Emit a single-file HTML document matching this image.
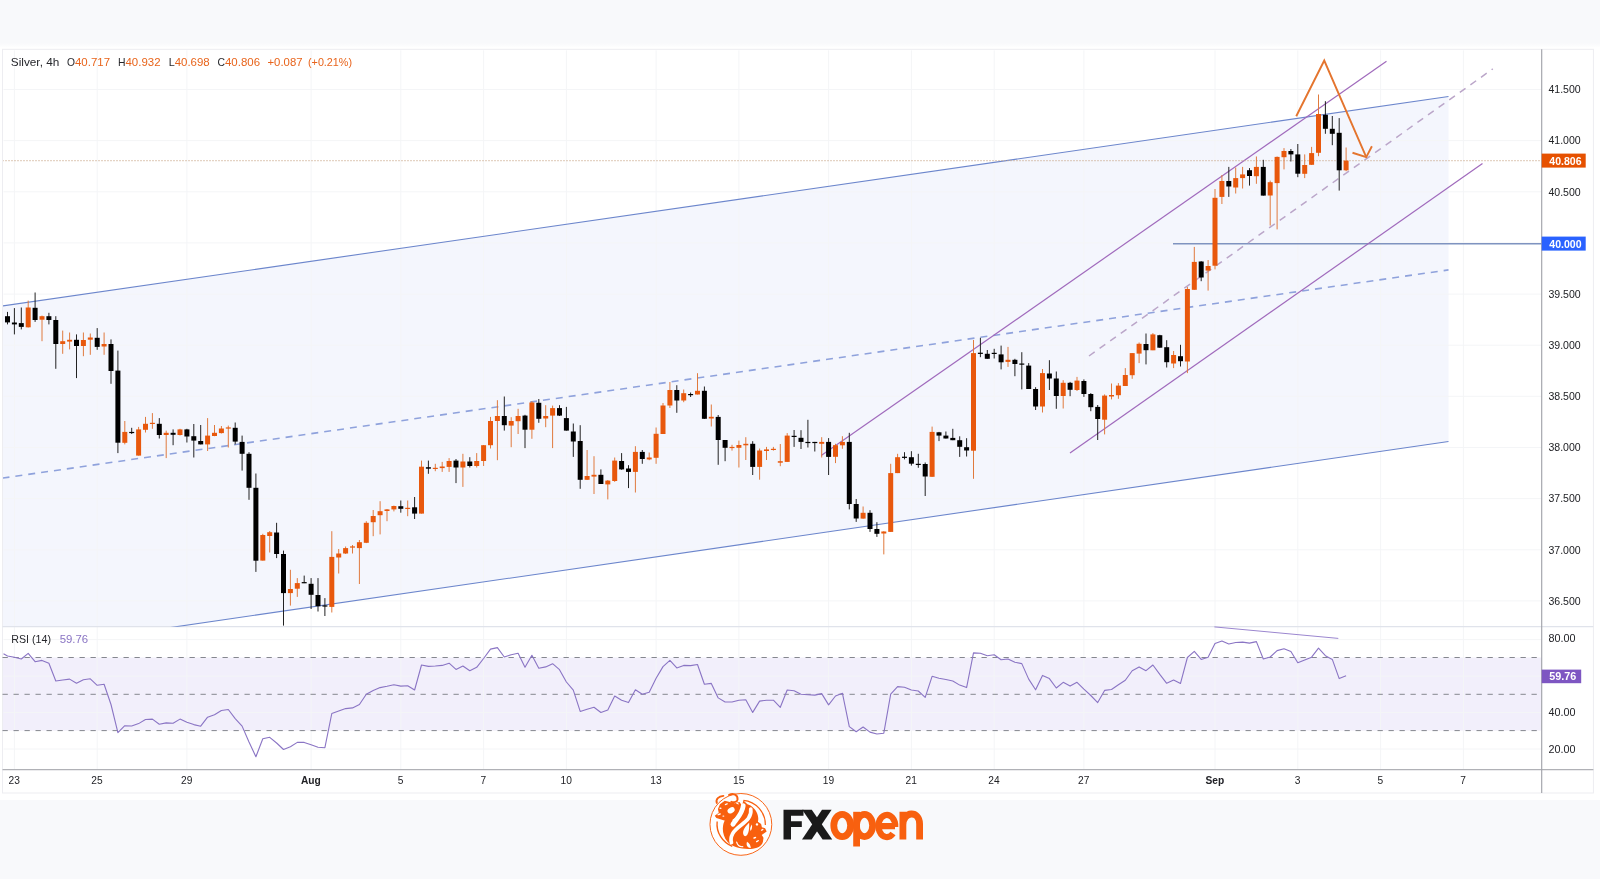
<!DOCTYPE html>
<html><head><meta charset="utf-8"><title>Silver 4h</title>
<style>
html,body{margin:0;padding:0;background:#f8f9fb;}
body{width:1600px;height:879px;position:relative;overflow:hidden;font-family:"Liberation Sans",sans-serif;}
</style></head><body>
<svg width="1600" height="879" viewBox="0 0 1600 879" style="position:absolute;left:0;top:0">
<rect x="0" y="0" width="1600" height="879" fill="#f8f9fb"/>
<defs><linearGradient id="tg" x1="0" y1="0" x2="0" y2="1"><stop offset="0" stop-color="#f8f9fb"/><stop offset="1" stop-color="#ffffff"/></linearGradient></defs>
<rect x="0" y="43" width="1600" height="5" fill="url(#tg)"/>
<rect x="0" y="47.5" width="1600" height="752.5" fill="#ffffff"/>
<rect x="2.5" y="49.3" width="1590.9" height="743.7" fill="#ffffff" stroke="#ededf1" stroke-width="1"/>
<filter id="soft" filterUnits="userSpaceOnUse" x="0" y="0" width="1600" height="879"><feGaussianBlur stdDeviation="0.4"/></filter>
<g filter="url(#soft)">
<clipPath id="mainclip"><rect x="3.0" y="49.8" width="1538.7" height="576.9000000000001"/></clipPath>
<g clip-path="url(#mainclip)">
<polygon points="2.5,306.0 1448.5,96.5 1448.5,441.5 2.5,651.9" fill="#f4f6fd"/>
</g>
<rect x="3.0" y="657.5" width="1538.7" height="73.10000000000002" fill="#f2effb"/>
<line x1="14.4" y1="50.3" x2="14.4" y2="769.7" stroke="#f4f5f7" stroke-width="1"/>
<line x1="97.2" y1="50.3" x2="97.2" y2="769.7" stroke="#f4f5f7" stroke-width="1"/>
<line x1="186.9" y1="50.3" x2="186.9" y2="769.7" stroke="#f4f5f7" stroke-width="1"/>
<line x1="311.1" y1="50.3" x2="311.1" y2="769.7" stroke="#f4f5f7" stroke-width="1"/>
<line x1="400.8" y1="50.3" x2="400.8" y2="769.7" stroke="#f4f5f7" stroke-width="1"/>
<line x1="483.6" y1="50.3" x2="483.6" y2="769.7" stroke="#f4f5f7" stroke-width="1"/>
<line x1="566.4" y1="50.3" x2="566.4" y2="769.7" stroke="#f4f5f7" stroke-width="1"/>
<line x1="656.1" y1="50.3" x2="656.1" y2="769.7" stroke="#f4f5f7" stroke-width="1"/>
<line x1="738.9" y1="50.3" x2="738.9" y2="769.7" stroke="#f4f5f7" stroke-width="1"/>
<line x1="828.6" y1="50.3" x2="828.6" y2="769.7" stroke="#f4f5f7" stroke-width="1"/>
<line x1="911.4" y1="50.3" x2="911.4" y2="769.7" stroke="#f4f5f7" stroke-width="1"/>
<line x1="994.2" y1="50.3" x2="994.2" y2="769.7" stroke="#f4f5f7" stroke-width="1"/>
<line x1="1083.9" y1="50.3" x2="1083.9" y2="769.7" stroke="#f4f5f7" stroke-width="1"/>
<line x1="1215.0" y1="50.3" x2="1215.0" y2="769.7" stroke="#f4f5f7" stroke-width="1"/>
<line x1="1297.8" y1="50.3" x2="1297.8" y2="769.7" stroke="#f4f5f7" stroke-width="1"/>
<line x1="1380.6" y1="50.3" x2="1380.6" y2="769.7" stroke="#f4f5f7" stroke-width="1"/>
<line x1="1463.4" y1="50.3" x2="1463.4" y2="769.7" stroke="#f4f5f7" stroke-width="1"/>
<line x1="3.5" y1="89.5" x2="1541.7" y2="89.5" stroke="#f4f5f7" stroke-width="1"/>
<line x1="3.5" y1="140.6" x2="1541.7" y2="140.6" stroke="#f4f5f7" stroke-width="1"/>
<line x1="3.5" y1="191.8" x2="1541.7" y2="191.8" stroke="#f4f5f7" stroke-width="1"/>
<line x1="3.5" y1="242.9" x2="1541.7" y2="242.9" stroke="#f4f5f7" stroke-width="1"/>
<line x1="3.5" y1="294.1" x2="1541.7" y2="294.1" stroke="#f4f5f7" stroke-width="1"/>
<line x1="3.5" y1="345.2" x2="1541.7" y2="345.2" stroke="#f4f5f7" stroke-width="1"/>
<line x1="3.5" y1="396.3" x2="1541.7" y2="396.3" stroke="#f4f5f7" stroke-width="1"/>
<line x1="3.5" y1="447.5" x2="1541.7" y2="447.5" stroke="#f4f5f7" stroke-width="1"/>
<line x1="3.5" y1="498.6" x2="1541.7" y2="498.6" stroke="#f4f5f7" stroke-width="1"/>
<line x1="3.5" y1="549.8" x2="1541.7" y2="549.8" stroke="#f4f5f7" stroke-width="1"/>
<line x1="3.5" y1="600.9" x2="1541.7" y2="600.9" stroke="#f4f5f7" stroke-width="1"/>
<line x1="3.5" y1="639.6" x2="1541.7" y2="639.6" stroke="#f4f5f7" stroke-width="1"/>
<line x1="3.5" y1="676.1" x2="1541.7" y2="676.1" stroke="#f4f5f7" stroke-width="1"/>
<line x1="3.5" y1="712.5" x2="1541.7" y2="712.5" stroke="#f4f5f7" stroke-width="1"/>
<line x1="3.5" y1="749.0" x2="1541.7" y2="749.0" stroke="#f4f5f7" stroke-width="1"/>
<line x1="2.5" y1="626.7" x2="1593.4" y2="626.7" stroke="#e0e3eb" stroke-width="1.2"/>
<line x1="2.5" y1="769.7" x2="1593.4" y2="769.7" stroke="#b0b1b6" stroke-width="1.3"/>
<line x1="1541.7" y1="49.3" x2="1541.7" y2="793.0" stroke="#a2a3aa" stroke-width="1.15"/>
<g clip-path="url(#mainclip)">
<line x1="2.5" y1="306.0" x2="1448.5" y2="96.5" stroke="#6c86cc" stroke-width="1.1"/>
<line x1="170" y1="627.6" x2="1448.5" y2="441.5" stroke="#6c86cc" stroke-width="1.1"/>
<line x1="2.5" y1="478.1" x2="1448.5" y2="269.9" stroke="#8fa2dc" stroke-width="1.6" stroke-dasharray="7,6"/>
<line x1="1173" y1="243.7" x2="1541.7" y2="243.7" stroke="#7f93c0" stroke-width="1.5"/>
<line x1="821.25" y1="455.6" x2="1386.5" y2="61.3" stroke="#a06abc" stroke-width="1.2"/>
<line x1="1070" y1="453" x2="1482.5" y2="163.5" stroke="#a06abc" stroke-width="1.2"/>
<line x1="1089" y1="356" x2="1492.8" y2="68.9" stroke="#bba6c9" stroke-width="1.5" stroke-dasharray="7,6"/>
<line x1="2.5" y1="160.6" x2="1541.7" y2="160.6" stroke="#c9a688" stroke-width="1.1" stroke-dasharray="1,2"/>
<line x1="7.50" y1="311.9" x2="7.50" y2="324.4" stroke="#222222" stroke-width="1"/>
<rect x="5.00" y="316.2" width="5" height="6.2" fill="#000000"/>
<line x1="14.40" y1="308.1" x2="14.40" y2="334.4" stroke="#222222" stroke-width="1"/>
<rect x="11.90" y="322.5" width="5" height="1.9" fill="#000000"/>
<line x1="21.30" y1="307.5" x2="21.30" y2="329.4" stroke="#222222" stroke-width="1"/>
<rect x="18.80" y="323.1" width="5" height="3.8" fill="#000000"/>
<line x1="28.20" y1="300.6" x2="28.20" y2="327.5" stroke="#e07a3e" stroke-width="1"/>
<rect x="25.70" y="307.5" width="5" height="19.8" fill="#e8580a"/>
<line x1="35.10" y1="292.5" x2="35.10" y2="321.9" stroke="#222222" stroke-width="1"/>
<rect x="32.60" y="307.8" width="5" height="12.2" fill="#000000"/>
<line x1="42.00" y1="315.6" x2="42.00" y2="341.2" stroke="#e07a3e" stroke-width="1"/>
<rect x="39.50" y="316.2" width="5" height="3.5" fill="#e8580a"/>
<line x1="48.90" y1="312.8" x2="48.90" y2="324.4" stroke="#222222" stroke-width="1"/>
<rect x="46.40" y="316.2" width="5" height="3.8" fill="#000000"/>
<line x1="55.80" y1="316.2" x2="55.80" y2="368.8" stroke="#222222" stroke-width="1"/>
<rect x="53.30" y="320.0" width="5" height="24.0" fill="#000000"/>
<line x1="62.70" y1="330.6" x2="62.70" y2="353.8" stroke="#e07a3e" stroke-width="1"/>
<rect x="60.20" y="341.2" width="5" height="2.8" fill="#e8580a"/>
<line x1="69.60" y1="332.5" x2="69.60" y2="349.4" stroke="#e07a3e" stroke-width="1"/>
<rect x="67.10" y="339.8" width="5" height="1.8" fill="#e8580a"/>
<line x1="76.50" y1="334.4" x2="76.50" y2="378.1" stroke="#222222" stroke-width="1"/>
<rect x="74.00" y="339.8" width="5" height="6.2" fill="#000000"/>
<line x1="83.40" y1="332.5" x2="83.40" y2="356.2" stroke="#e07a3e" stroke-width="1"/>
<rect x="80.90" y="340.0" width="5" height="6.0" fill="#e8580a"/>
<line x1="90.30" y1="333.5" x2="90.30" y2="354.8" stroke="#e07a3e" stroke-width="1"/>
<rect x="87.80" y="337.5" width="5" height="2.2" fill="#e8580a"/>
<line x1="97.20" y1="328.1" x2="97.20" y2="349.8" stroke="#222222" stroke-width="1"/>
<rect x="94.70" y="337.8" width="5" height="9.1" fill="#000000"/>
<line x1="104.10" y1="332.5" x2="104.10" y2="354.8" stroke="#e07a3e" stroke-width="1"/>
<rect x="101.60" y="344.0" width="5" height="2.5" fill="#e8580a"/>
<line x1="111.00" y1="339.4" x2="111.00" y2="383.8" stroke="#222222" stroke-width="1"/>
<rect x="108.50" y="344.0" width="5" height="27.0" fill="#000000"/>
<line x1="117.90" y1="350.6" x2="117.90" y2="453.1" stroke="#222222" stroke-width="1"/>
<rect x="115.40" y="370.6" width="5" height="72.1" fill="#000000"/>
<line x1="124.80" y1="421.0" x2="124.80" y2="444.4" stroke="#e07a3e" stroke-width="1"/>
<rect x="122.30" y="431.9" width="5" height="10.9" fill="#e8580a"/>
<line x1="131.70" y1="427.8" x2="131.70" y2="434.0" stroke="#222222" stroke-width="1"/>
<rect x="129.20" y="431.9" width="5" height="1.2" fill="#000000"/>
<line x1="138.60" y1="426.9" x2="138.60" y2="455.6" stroke="#e07a3e" stroke-width="1"/>
<rect x="136.10" y="429.4" width="5" height="26.2" fill="#e8580a"/>
<line x1="145.50" y1="416.9" x2="145.50" y2="432.5" stroke="#e07a3e" stroke-width="1"/>
<rect x="143.00" y="423.8" width="5" height="6.0" fill="#e8580a"/>
<line x1="152.40" y1="413.1" x2="152.40" y2="428.8" stroke="#e07a3e" stroke-width="1"/>
<rect x="149.90" y="422.8" width="5" height="1.2" fill="#e8580a"/>
<line x1="159.30" y1="418.1" x2="159.30" y2="438.5" stroke="#222222" stroke-width="1"/>
<rect x="156.80" y="423.8" width="5" height="11.2" fill="#000000"/>
<line x1="166.20" y1="430.6" x2="166.20" y2="458.1" stroke="#e07a3e" stroke-width="1"/>
<rect x="163.70" y="432.8" width="5" height="2.2" fill="#e8580a"/>
<line x1="173.10" y1="429.4" x2="173.10" y2="445.2" stroke="#222222" stroke-width="1"/>
<rect x="170.60" y="432.8" width="5" height="2.0" fill="#000000"/>
<line x1="180.00" y1="428.8" x2="180.00" y2="435.5" stroke="#e07a3e" stroke-width="1"/>
<rect x="177.50" y="429.4" width="5" height="5.6" fill="#e8580a"/>
<line x1="186.90" y1="428.8" x2="186.90" y2="442.5" stroke="#222222" stroke-width="1"/>
<rect x="184.40" y="429.4" width="5" height="7.1" fill="#000000"/>
<line x1="193.80" y1="424.0" x2="193.80" y2="457.5" stroke="#222222" stroke-width="1"/>
<rect x="191.30" y="436.2" width="5" height="4.4" fill="#000000"/>
<line x1="200.70" y1="425.0" x2="200.70" y2="444.4" stroke="#222222" stroke-width="1"/>
<rect x="198.20" y="441.0" width="5" height="3.4" fill="#000000"/>
<line x1="207.60" y1="418.1" x2="207.60" y2="451.0" stroke="#e07a3e" stroke-width="1"/>
<rect x="205.10" y="435.6" width="5" height="8.8" fill="#e8580a"/>
<line x1="214.50" y1="425.0" x2="214.50" y2="436.2" stroke="#e07a3e" stroke-width="1"/>
<rect x="212.00" y="432.8" width="5" height="3.2" fill="#e8580a"/>
<line x1="221.40" y1="426.0" x2="221.40" y2="433.5" stroke="#e07a3e" stroke-width="1"/>
<rect x="218.90" y="428.5" width="5" height="4.6" fill="#e8580a"/>
<line x1="228.30" y1="425.6" x2="228.30" y2="447.5" stroke="#e07a3e" stroke-width="1"/>
<rect x="225.80" y="427.4" width="5" height="1.2" fill="#e8580a"/>
<line x1="235.20" y1="422.5" x2="235.20" y2="444.4" stroke="#222222" stroke-width="1"/>
<rect x="232.70" y="427.8" width="5" height="13.8" fill="#000000"/>
<line x1="242.10" y1="435.6" x2="242.10" y2="470.6" stroke="#222222" stroke-width="1"/>
<rect x="239.60" y="441.9" width="5" height="11.9" fill="#000000"/>
<line x1="249.00" y1="452.2" x2="249.00" y2="499.8" stroke="#222222" stroke-width="1"/>
<rect x="246.50" y="453.8" width="5" height="34.0" fill="#000000"/>
<line x1="255.90" y1="473.5" x2="255.90" y2="571.9" stroke="#222222" stroke-width="1"/>
<rect x="253.40" y="487.8" width="5" height="72.9" fill="#000000"/>
<line x1="262.80" y1="533.8" x2="262.80" y2="560.6" stroke="#e07a3e" stroke-width="1"/>
<rect x="260.30" y="535.0" width="5" height="25.6" fill="#e8580a"/>
<line x1="269.70" y1="531.0" x2="269.70" y2="552.5" stroke="#e07a3e" stroke-width="1"/>
<rect x="267.20" y="532.2" width="5" height="3.8" fill="#e8580a"/>
<line x1="276.60" y1="522.8" x2="276.60" y2="558.1" stroke="#222222" stroke-width="1"/>
<rect x="274.10" y="532.5" width="5" height="21.5" fill="#000000"/>
<line x1="283.50" y1="550.6" x2="283.50" y2="625.6" stroke="#222222" stroke-width="1"/>
<rect x="281.00" y="554.0" width="5" height="39.1" fill="#000000"/>
<line x1="290.40" y1="569.8" x2="290.40" y2="605.6" stroke="#e07a3e" stroke-width="1"/>
<rect x="287.90" y="589.0" width="5" height="4.1" fill="#e8580a"/>
<line x1="297.30" y1="578.1" x2="297.30" y2="596.9" stroke="#e07a3e" stroke-width="1"/>
<rect x="294.80" y="583.1" width="5" height="5.6" fill="#e8580a"/>
<line x1="304.20" y1="575.6" x2="304.20" y2="583.1" stroke="#222222" stroke-width="1"/>
<rect x="301.70" y="582.1" width="5" height="1.2" fill="#000000"/>
<line x1="311.10" y1="578.1" x2="311.10" y2="609.0" stroke="#222222" stroke-width="1"/>
<rect x="308.60" y="583.8" width="5" height="11.0" fill="#000000"/>
<line x1="318.00" y1="578.1" x2="318.00" y2="611.5" stroke="#222222" stroke-width="1"/>
<rect x="315.50" y="595.0" width="5" height="11.2" fill="#000000"/>
<line x1="324.90" y1="598.1" x2="324.90" y2="616.0" stroke="#222222" stroke-width="1"/>
<rect x="322.40" y="605.4" width="5" height="1.2" fill="#000000"/>
<line x1="331.80" y1="531.2" x2="331.80" y2="612.5" stroke="#e07a3e" stroke-width="1"/>
<rect x="329.30" y="556.9" width="5" height="50.0" fill="#e8580a"/>
<line x1="338.70" y1="549.0" x2="338.70" y2="573.5" stroke="#e07a3e" stroke-width="1"/>
<rect x="336.20" y="553.5" width="5" height="4.0" fill="#e8580a"/>
<line x1="345.60" y1="546.5" x2="345.60" y2="554.0" stroke="#e07a3e" stroke-width="1"/>
<rect x="343.10" y="548.1" width="5" height="5.4" fill="#e8580a"/>
<line x1="352.50" y1="545.0" x2="352.50" y2="553.5" stroke="#e07a3e" stroke-width="1"/>
<rect x="350.00" y="546.4" width="5" height="1.2" fill="#e8580a"/>
<line x1="359.40" y1="540.0" x2="359.40" y2="584.0" stroke="#e07a3e" stroke-width="1"/>
<rect x="356.90" y="542.2" width="5" height="5.9" fill="#e8580a"/>
<line x1="366.30" y1="521.2" x2="366.30" y2="543.1" stroke="#e07a3e" stroke-width="1"/>
<rect x="363.80" y="522.8" width="5" height="20.0" fill="#e8580a"/>
<line x1="373.20" y1="510.0" x2="373.20" y2="536.2" stroke="#e07a3e" stroke-width="1"/>
<rect x="370.70" y="516.0" width="5" height="6.2" fill="#e8580a"/>
<line x1="380.10" y1="501.2" x2="380.10" y2="534.4" stroke="#e07a3e" stroke-width="1"/>
<rect x="377.60" y="511.2" width="5" height="4.0" fill="#e8580a"/>
<line x1="387.00" y1="509.0" x2="387.00" y2="521.2" stroke="#e07a3e" stroke-width="1"/>
<rect x="384.50" y="509.4" width="5" height="1.6" fill="#e8580a"/>
<line x1="393.90" y1="505.6" x2="393.90" y2="511.4" stroke="#e07a3e" stroke-width="1"/>
<rect x="391.40" y="506.0" width="5" height="3.4" fill="#e8580a"/>
<line x1="400.80" y1="500.5" x2="400.80" y2="512.7" stroke="#222222" stroke-width="1"/>
<rect x="398.30" y="506.2" width="5" height="2.6" fill="#000000"/>
<line x1="407.70" y1="500.5" x2="407.70" y2="516.2" stroke="#e07a3e" stroke-width="1"/>
<rect x="405.20" y="507.8" width="5" height="1.2" fill="#e8580a"/>
<line x1="414.60" y1="497.0" x2="414.60" y2="519.0" stroke="#222222" stroke-width="1"/>
<rect x="412.10" y="507.3" width="5" height="6.3" fill="#000000"/>
<line x1="421.50" y1="460.6" x2="421.50" y2="513.6" stroke="#e07a3e" stroke-width="1"/>
<rect x="419.00" y="466.7" width="5" height="46.9" fill="#e8580a"/>
<line x1="428.40" y1="460.6" x2="428.40" y2="473.8" stroke="#222222" stroke-width="1"/>
<rect x="425.90" y="467.2" width="5" height="1.5" fill="#000000"/>
<line x1="435.30" y1="463.8" x2="435.30" y2="471.2" stroke="#e07a3e" stroke-width="1"/>
<rect x="432.80" y="467.8" width="5" height="1.2" fill="#e8580a"/>
<line x1="442.20" y1="461.9" x2="442.20" y2="471.9" stroke="#e07a3e" stroke-width="1"/>
<rect x="439.70" y="466.5" width="5" height="1.6" fill="#e8580a"/>
<line x1="449.10" y1="458.1" x2="449.10" y2="471.9" stroke="#e07a3e" stroke-width="1"/>
<rect x="446.60" y="461.0" width="5" height="5.9" fill="#e8580a"/>
<line x1="456.00" y1="459.0" x2="456.00" y2="483.1" stroke="#222222" stroke-width="1"/>
<rect x="453.50" y="460.6" width="5" height="6.9" fill="#000000"/>
<line x1="462.90" y1="453.8" x2="462.90" y2="486.9" stroke="#e07a3e" stroke-width="1"/>
<rect x="460.40" y="461.5" width="5" height="6.0" fill="#e8580a"/>
<line x1="469.80" y1="457.2" x2="469.80" y2="467.5" stroke="#222222" stroke-width="1"/>
<rect x="467.30" y="461.5" width="5" height="4.5" fill="#000000"/>
<line x1="476.70" y1="453.1" x2="476.70" y2="467.5" stroke="#e07a3e" stroke-width="1"/>
<rect x="474.20" y="461.0" width="5" height="5.0" fill="#e8580a"/>
<line x1="483.60" y1="445.0" x2="483.60" y2="466.0" stroke="#e07a3e" stroke-width="1"/>
<rect x="481.10" y="445.2" width="5" height="15.8" fill="#e8580a"/>
<line x1="490.50" y1="416.9" x2="490.50" y2="448.5" stroke="#e07a3e" stroke-width="1"/>
<rect x="488.00" y="421.0" width="5" height="24.2" fill="#e8580a"/>
<line x1="497.40" y1="400.2" x2="497.40" y2="460.2" stroke="#e07a3e" stroke-width="1"/>
<rect x="494.90" y="416.0" width="5" height="5.0" fill="#e8580a"/>
<line x1="504.30" y1="396.5" x2="504.30" y2="430.6" stroke="#222222" stroke-width="1"/>
<rect x="501.80" y="416.0" width="5" height="9.2" fill="#000000"/>
<line x1="511.20" y1="417.2" x2="511.20" y2="447.2" stroke="#e07a3e" stroke-width="1"/>
<rect x="508.70" y="421.0" width="5" height="4.6" fill="#e8580a"/>
<line x1="518.10" y1="408.8" x2="518.10" y2="434.0" stroke="#e07a3e" stroke-width="1"/>
<rect x="515.60" y="416.0" width="5" height="5.2" fill="#e8580a"/>
<line x1="525.00" y1="414.8" x2="525.00" y2="448.1" stroke="#222222" stroke-width="1"/>
<rect x="522.50" y="415.6" width="5" height="14.1" fill="#000000"/>
<line x1="531.90" y1="401.2" x2="531.90" y2="438.8" stroke="#e07a3e" stroke-width="1"/>
<rect x="529.40" y="402.5" width="5" height="27.2" fill="#e8580a"/>
<line x1="538.80" y1="399.0" x2="538.80" y2="422.8" stroke="#222222" stroke-width="1"/>
<rect x="536.30" y="402.8" width="5" height="16.0" fill="#000000"/>
<line x1="545.70" y1="405.2" x2="545.70" y2="427.2" stroke="#e07a3e" stroke-width="1"/>
<rect x="543.20" y="416.0" width="5" height="2.5" fill="#e8580a"/>
<line x1="552.60" y1="405.6" x2="552.60" y2="448.1" stroke="#e07a3e" stroke-width="1"/>
<rect x="550.10" y="408.1" width="5" height="7.5" fill="#e8580a"/>
<line x1="559.50" y1="405.2" x2="559.50" y2="416.0" stroke="#222222" stroke-width="1"/>
<rect x="557.00" y="408.1" width="5" height="7.5" fill="#000000"/>
<line x1="566.40" y1="406.9" x2="566.40" y2="430.6" stroke="#222222" stroke-width="1"/>
<rect x="563.90" y="418.1" width="5" height="12.5" fill="#000000"/>
<line x1="573.30" y1="423.5" x2="573.30" y2="456.9" stroke="#222222" stroke-width="1"/>
<rect x="570.80" y="431.5" width="5" height="10.0" fill="#000000"/>
<line x1="580.20" y1="425.2" x2="580.20" y2="488.8" stroke="#222222" stroke-width="1"/>
<rect x="577.70" y="441.0" width="5" height="38.8" fill="#000000"/>
<line x1="587.10" y1="450.0" x2="587.10" y2="480.0" stroke="#e07a3e" stroke-width="1"/>
<rect x="584.60" y="476.0" width="5" height="3.8" fill="#e8580a"/>
<line x1="594.00" y1="456.2" x2="594.00" y2="494.0" stroke="#e07a3e" stroke-width="1"/>
<rect x="591.50" y="474.8" width="5" height="1.8" fill="#e8580a"/>
<line x1="600.90" y1="469.4" x2="600.90" y2="484.0" stroke="#222222" stroke-width="1"/>
<rect x="598.40" y="474.8" width="5" height="9.2" fill="#000000"/>
<line x1="607.80" y1="480.0" x2="607.80" y2="499.4" stroke="#e07a3e" stroke-width="1"/>
<rect x="605.30" y="480.6" width="5" height="3.8" fill="#e8580a"/>
<line x1="614.70" y1="457.5" x2="614.70" y2="481.9" stroke="#e07a3e" stroke-width="1"/>
<rect x="612.20" y="460.6" width="5" height="20.4" fill="#e8580a"/>
<line x1="621.60" y1="453.1" x2="621.60" y2="469.8" stroke="#222222" stroke-width="1"/>
<rect x="619.10" y="461.0" width="5" height="8.4" fill="#000000"/>
<line x1="628.50" y1="465.2" x2="628.50" y2="488.1" stroke="#222222" stroke-width="1"/>
<rect x="626.00" y="468.5" width="5" height="3.4" fill="#000000"/>
<line x1="635.40" y1="446.2" x2="635.40" y2="492.5" stroke="#e07a3e" stroke-width="1"/>
<rect x="632.90" y="451.9" width="5" height="20.0" fill="#e8580a"/>
<line x1="642.30" y1="450.0" x2="642.30" y2="463.8" stroke="#222222" stroke-width="1"/>
<rect x="639.80" y="451.9" width="5" height="7.1" fill="#000000"/>
<line x1="649.20" y1="452.5" x2="649.20" y2="460.2" stroke="#e07a3e" stroke-width="1"/>
<rect x="646.70" y="457.5" width="5" height="1.9" fill="#e8580a"/>
<line x1="656.10" y1="427.5" x2="656.10" y2="463.8" stroke="#e07a3e" stroke-width="1"/>
<rect x="653.60" y="433.8" width="5" height="24.0" fill="#e8580a"/>
<line x1="663.00" y1="403.0" x2="663.00" y2="434.0" stroke="#e07a3e" stroke-width="1"/>
<rect x="660.50" y="405.5" width="5" height="28.5" fill="#e8580a"/>
<line x1="669.90" y1="382.0" x2="669.90" y2="408.0" stroke="#e07a3e" stroke-width="1"/>
<rect x="667.40" y="390.0" width="5" height="15.5" fill="#e8580a"/>
<line x1="676.80" y1="385.2" x2="676.80" y2="412.8" stroke="#222222" stroke-width="1"/>
<rect x="674.30" y="390.0" width="5" height="10.5" fill="#000000"/>
<line x1="683.70" y1="389.5" x2="683.70" y2="402.2" stroke="#e07a3e" stroke-width="1"/>
<rect x="681.20" y="393.2" width="5" height="7.3" fill="#e8580a"/>
<line x1="690.60" y1="392.5" x2="690.60" y2="397.0" stroke="#222222" stroke-width="1"/>
<rect x="688.10" y="394.0" width="5" height="1.2" fill="#000000"/>
<line x1="697.50" y1="373.2" x2="697.50" y2="394.5" stroke="#e07a3e" stroke-width="1"/>
<rect x="695.00" y="390.8" width="5" height="3.7" fill="#e8580a"/>
<line x1="704.40" y1="386.5" x2="704.40" y2="419.0" stroke="#222222" stroke-width="1"/>
<rect x="701.90" y="390.8" width="5" height="28.0" fill="#000000"/>
<line x1="711.30" y1="404.5" x2="711.30" y2="426.5" stroke="#e07a3e" stroke-width="1"/>
<rect x="708.80" y="416.8" width="5" height="1.7" fill="#e8580a"/>
<line x1="718.20" y1="415.0" x2="718.20" y2="464.8" stroke="#222222" stroke-width="1"/>
<rect x="715.70" y="416.9" width="5" height="23.1" fill="#000000"/>
<line x1="725.10" y1="440.0" x2="725.10" y2="461.2" stroke="#222222" stroke-width="1"/>
<rect x="722.60" y="440.0" width="5" height="7.8" fill="#000000"/>
<line x1="732.00" y1="444.8" x2="732.00" y2="450.6" stroke="#e07a3e" stroke-width="1"/>
<rect x="729.50" y="446.9" width="5" height="1.2" fill="#e8580a"/>
<line x1="738.90" y1="440.6" x2="738.90" y2="467.5" stroke="#e07a3e" stroke-width="1"/>
<rect x="736.40" y="445.0" width="5" height="2.8" fill="#e8580a"/>
<line x1="745.80" y1="437.2" x2="745.80" y2="460.0" stroke="#e07a3e" stroke-width="1"/>
<rect x="743.30" y="443.8" width="5" height="1.5" fill="#e8580a"/>
<line x1="752.70" y1="441.2" x2="752.70" y2="475.0" stroke="#222222" stroke-width="1"/>
<rect x="750.20" y="443.8" width="5" height="23.1" fill="#000000"/>
<line x1="759.60" y1="448.5" x2="759.60" y2="479.7" stroke="#e07a3e" stroke-width="1"/>
<rect x="757.10" y="450.5" width="5" height="16.4" fill="#e8580a"/>
<line x1="766.50" y1="446.9" x2="766.50" y2="460.0" stroke="#e07a3e" stroke-width="1"/>
<rect x="764.00" y="449.4" width="5" height="1.6" fill="#e8580a"/>
<line x1="773.40" y1="446.9" x2="773.40" y2="450.6" stroke="#e07a3e" stroke-width="1"/>
<rect x="770.90" y="448.8" width="5" height="1.2" fill="#e8580a"/>
<line x1="780.30" y1="444.0" x2="780.30" y2="466.2" stroke="#e07a3e" stroke-width="1"/>
<rect x="777.80" y="461.2" width="5" height="1.5" fill="#e8580a"/>
<line x1="787.20" y1="433.1" x2="787.20" y2="461.9" stroke="#e07a3e" stroke-width="1"/>
<rect x="784.70" y="435.6" width="5" height="26.3" fill="#e8580a"/>
<line x1="794.10" y1="430.0" x2="794.10" y2="446.9" stroke="#222222" stroke-width="1"/>
<rect x="791.60" y="435.8" width="5" height="1.2" fill="#000000"/>
<line x1="801.00" y1="430.2" x2="801.00" y2="449.0" stroke="#222222" stroke-width="1"/>
<rect x="798.50" y="437.8" width="5" height="4.1" fill="#000000"/>
<line x1="807.90" y1="419.8" x2="807.90" y2="447.5" stroke="#222222" stroke-width="1"/>
<rect x="805.40" y="441.9" width="5" height="1.2" fill="#000000"/>
<line x1="814.80" y1="441.9" x2="814.80" y2="451.5" stroke="#222222" stroke-width="1"/>
<rect x="812.30" y="441.9" width="5" height="1.2" fill="#000000"/>
<line x1="821.70" y1="437.2" x2="821.70" y2="457.5" stroke="#e07a3e" stroke-width="1"/>
<rect x="819.20" y="441.9" width="5" height="1.9" fill="#e8580a"/>
<line x1="828.60" y1="438.1" x2="828.60" y2="475.0" stroke="#222222" stroke-width="1"/>
<rect x="826.10" y="441.9" width="5" height="15.0" fill="#000000"/>
<line x1="835.50" y1="443.8" x2="835.50" y2="463.1" stroke="#e07a3e" stroke-width="1"/>
<rect x="833.00" y="445.2" width="5" height="11.6" fill="#e8580a"/>
<line x1="842.40" y1="436.2" x2="842.40" y2="448.8" stroke="#e07a3e" stroke-width="1"/>
<rect x="839.90" y="441.9" width="5" height="3.4" fill="#e8580a"/>
<line x1="849.30" y1="432.8" x2="849.30" y2="509.4" stroke="#222222" stroke-width="1"/>
<rect x="846.80" y="441.9" width="5" height="62.1" fill="#000000"/>
<line x1="856.20" y1="499.0" x2="856.20" y2="521.9" stroke="#222222" stroke-width="1"/>
<rect x="853.70" y="504.0" width="5" height="14.5" fill="#000000"/>
<line x1="863.10" y1="506.5" x2="863.10" y2="518.8" stroke="#e07a3e" stroke-width="1"/>
<rect x="860.60" y="512.8" width="5" height="5.8" fill="#e8580a"/>
<line x1="870.00" y1="510.2" x2="870.00" y2="531.9" stroke="#222222" stroke-width="1"/>
<rect x="867.50" y="512.8" width="5" height="16.2" fill="#000000"/>
<line x1="876.90" y1="522.2" x2="876.90" y2="536.9" stroke="#222222" stroke-width="1"/>
<rect x="874.40" y="529.0" width="5" height="4.8" fill="#000000"/>
<line x1="883.80" y1="531.2" x2="883.80" y2="554.4" stroke="#e07a3e" stroke-width="1"/>
<rect x="881.30" y="531.5" width="5" height="2.0" fill="#e8580a"/>
<line x1="890.70" y1="463.8" x2="890.70" y2="531.9" stroke="#e07a3e" stroke-width="1"/>
<rect x="888.20" y="473.1" width="5" height="58.8" fill="#e8580a"/>
<line x1="897.60" y1="453.8" x2="897.60" y2="473.1" stroke="#e07a3e" stroke-width="1"/>
<rect x="895.10" y="457.2" width="5" height="15.9" fill="#e8580a"/>
<line x1="904.50" y1="452.2" x2="904.50" y2="459.4" stroke="#222222" stroke-width="1"/>
<rect x="902.00" y="456.7" width="5" height="1.2" fill="#000000"/>
<line x1="911.40" y1="451.2" x2="911.40" y2="465.6" stroke="#222222" stroke-width="1"/>
<rect x="908.90" y="457.2" width="5" height="6.5" fill="#000000"/>
<line x1="918.30" y1="453.8" x2="918.30" y2="467.8" stroke="#222222" stroke-width="1"/>
<rect x="915.80" y="463.8" width="5" height="1.2" fill="#000000"/>
<line x1="925.20" y1="462.5" x2="925.20" y2="496.0" stroke="#222222" stroke-width="1"/>
<rect x="922.70" y="464.0" width="5" height="12.5" fill="#000000"/>
<line x1="932.10" y1="426.6" x2="932.10" y2="476.9" stroke="#e07a3e" stroke-width="1"/>
<rect x="929.60" y="431.9" width="5" height="44.9" fill="#e8580a"/>
<line x1="939.00" y1="431.9" x2="939.00" y2="441.1" stroke="#222222" stroke-width="1"/>
<rect x="936.50" y="432.3" width="5" height="3.3" fill="#000000"/>
<line x1="945.90" y1="431.5" x2="945.90" y2="438.5" stroke="#222222" stroke-width="1"/>
<rect x="943.40" y="435.6" width="5" height="2.9" fill="#000000"/>
<line x1="952.80" y1="428.8" x2="952.80" y2="440.2" stroke="#222222" stroke-width="1"/>
<rect x="950.30" y="437.9" width="5" height="2.3" fill="#000000"/>
<line x1="959.70" y1="436.3" x2="959.70" y2="456.9" stroke="#222222" stroke-width="1"/>
<rect x="957.20" y="440.2" width="5" height="6.6" fill="#000000"/>
<line x1="966.60" y1="438.2" x2="966.60" y2="456.5" stroke="#222222" stroke-width="1"/>
<rect x="964.10" y="447.2" width="5" height="3.3" fill="#000000"/>
<line x1="973.50" y1="340.0" x2="973.50" y2="478.8" stroke="#e07a3e" stroke-width="1"/>
<rect x="971.00" y="353.1" width="5" height="97.6" fill="#e8580a"/>
<line x1="980.40" y1="337.8" x2="980.40" y2="357.2" stroke="#222222" stroke-width="1"/>
<rect x="977.90" y="352.7" width="5" height="1.2" fill="#000000"/>
<line x1="987.30" y1="350.0" x2="987.30" y2="358.8" stroke="#222222" stroke-width="1"/>
<rect x="984.80" y="353.8" width="5" height="5.0" fill="#000000"/>
<line x1="994.20" y1="348.8" x2="994.20" y2="358.5" stroke="#222222" stroke-width="1"/>
<rect x="991.70" y="352.8" width="5" height="1.2" fill="#000000"/>
<line x1="1001.10" y1="345.6" x2="1001.10" y2="369.4" stroke="#222222" stroke-width="1"/>
<rect x="998.60" y="354.4" width="5" height="7.9" fill="#000000"/>
<line x1="1008.00" y1="346.9" x2="1008.00" y2="366.9" stroke="#e07a3e" stroke-width="1"/>
<rect x="1005.50" y="359.8" width="5" height="2.1" fill="#e8580a"/>
<line x1="1014.90" y1="358.8" x2="1014.90" y2="376.2" stroke="#222222" stroke-width="1"/>
<rect x="1012.40" y="359.8" width="5" height="4.2" fill="#000000"/>
<line x1="1021.80" y1="352.2" x2="1021.80" y2="389.4" stroke="#222222" stroke-width="1"/>
<rect x="1019.30" y="363.5" width="5" height="1.2" fill="#000000"/>
<line x1="1028.70" y1="363.1" x2="1028.70" y2="389.0" stroke="#222222" stroke-width="1"/>
<rect x="1026.20" y="365.6" width="5" height="23.4" fill="#000000"/>
<line x1="1035.60" y1="387.2" x2="1035.60" y2="410.0" stroke="#222222" stroke-width="1"/>
<rect x="1033.10" y="389.0" width="5" height="17.5" fill="#000000"/>
<line x1="1042.50" y1="369.0" x2="1042.50" y2="412.5" stroke="#e07a3e" stroke-width="1"/>
<rect x="1040.00" y="373.1" width="5" height="33.4" fill="#e8580a"/>
<line x1="1049.40" y1="360.2" x2="1049.40" y2="390.0" stroke="#222222" stroke-width="1"/>
<rect x="1046.90" y="373.5" width="5" height="5.0" fill="#000000"/>
<line x1="1056.30" y1="371.5" x2="1056.30" y2="408.8" stroke="#222222" stroke-width="1"/>
<rect x="1053.80" y="378.5" width="5" height="17.5" fill="#000000"/>
<line x1="1063.20" y1="380.2" x2="1063.20" y2="408.5" stroke="#e07a3e" stroke-width="1"/>
<rect x="1060.70" y="382.8" width="5" height="13.2" fill="#e8580a"/>
<line x1="1070.10" y1="381.9" x2="1070.10" y2="396.2" stroke="#222222" stroke-width="1"/>
<rect x="1067.60" y="382.8" width="5" height="7.0" fill="#000000"/>
<line x1="1077.00" y1="376.9" x2="1077.00" y2="391.0" stroke="#e07a3e" stroke-width="1"/>
<rect x="1074.50" y="380.6" width="5" height="9.4" fill="#e8580a"/>
<line x1="1083.90" y1="379.4" x2="1083.90" y2="396.9" stroke="#222222" stroke-width="1"/>
<rect x="1081.40" y="381.0" width="5" height="13.0" fill="#000000"/>
<line x1="1090.80" y1="393.1" x2="1090.80" y2="411.2" stroke="#222222" stroke-width="1"/>
<rect x="1088.30" y="394.0" width="5" height="13.2" fill="#000000"/>
<line x1="1097.70" y1="405.0" x2="1097.70" y2="440.0" stroke="#222222" stroke-width="1"/>
<rect x="1095.20" y="406.9" width="5" height="12.1" fill="#000000"/>
<line x1="1104.60" y1="394.4" x2="1104.60" y2="434.4" stroke="#e07a3e" stroke-width="1"/>
<rect x="1102.10" y="395.6" width="5" height="24.1" fill="#e8580a"/>
<line x1="1111.50" y1="383.5" x2="1111.50" y2="399.4" stroke="#e07a3e" stroke-width="1"/>
<rect x="1109.00" y="395.0" width="5" height="1.5" fill="#e8580a"/>
<line x1="1118.40" y1="383.1" x2="1118.40" y2="398.8" stroke="#e07a3e" stroke-width="1"/>
<rect x="1115.90" y="385.6" width="5" height="9.6" fill="#e8580a"/>
<line x1="1125.30" y1="368.1" x2="1125.30" y2="386.0" stroke="#e07a3e" stroke-width="1"/>
<rect x="1122.80" y="375.0" width="5" height="11.0" fill="#e8580a"/>
<line x1="1132.20" y1="353.1" x2="1132.20" y2="378.8" stroke="#e07a3e" stroke-width="1"/>
<rect x="1129.70" y="353.1" width="5" height="22.1" fill="#e8580a"/>
<line x1="1139.10" y1="342.5" x2="1139.10" y2="363.1" stroke="#e07a3e" stroke-width="1"/>
<rect x="1136.60" y="343.8" width="5" height="9.8" fill="#e8580a"/>
<line x1="1146.00" y1="333.5" x2="1146.00" y2="364.4" stroke="#222222" stroke-width="1"/>
<rect x="1143.50" y="344.0" width="5" height="6.2" fill="#000000"/>
<line x1="1152.90" y1="333.1" x2="1152.90" y2="350.2" stroke="#e07a3e" stroke-width="1"/>
<rect x="1150.40" y="334.4" width="5" height="15.9" fill="#e8580a"/>
<line x1="1159.80" y1="334.8" x2="1159.80" y2="347.8" stroke="#222222" stroke-width="1"/>
<rect x="1157.30" y="335.2" width="5" height="12.5" fill="#000000"/>
<line x1="1166.70" y1="340.2" x2="1166.70" y2="367.5" stroke="#222222" stroke-width="1"/>
<rect x="1164.20" y="347.2" width="5" height="15.0" fill="#000000"/>
<line x1="1173.60" y1="351.0" x2="1173.60" y2="368.1" stroke="#e07a3e" stroke-width="1"/>
<rect x="1171.10" y="355.0" width="5" height="8.5" fill="#e8580a"/>
<line x1="1180.50" y1="344.8" x2="1180.50" y2="366.5" stroke="#222222" stroke-width="1"/>
<rect x="1178.00" y="356.2" width="5" height="5.0" fill="#000000"/>
<line x1="1187.40" y1="286.9" x2="1187.40" y2="373.1" stroke="#e07a3e" stroke-width="1"/>
<rect x="1184.90" y="289.0" width="5" height="72.5" fill="#e8580a"/>
<line x1="1194.30" y1="246.9" x2="1194.30" y2="289.8" stroke="#e07a3e" stroke-width="1"/>
<rect x="1191.80" y="261.9" width="5" height="27.9" fill="#e8580a"/>
<line x1="1201.20" y1="261.2" x2="1201.20" y2="281.2" stroke="#222222" stroke-width="1"/>
<rect x="1198.70" y="261.5" width="5" height="16.0" fill="#000000"/>
<line x1="1208.10" y1="260.0" x2="1208.10" y2="290.6" stroke="#e07a3e" stroke-width="1"/>
<rect x="1205.60" y="266.0" width="5" height="4.6" fill="#e8580a"/>
<line x1="1215.00" y1="189.0" x2="1215.00" y2="269.4" stroke="#e07a3e" stroke-width="1"/>
<rect x="1212.50" y="197.8" width="5" height="67.9" fill="#e8580a"/>
<line x1="1221.90" y1="175.0" x2="1221.90" y2="204.0" stroke="#e07a3e" stroke-width="1"/>
<rect x="1219.40" y="181.0" width="5" height="15.9" fill="#e8580a"/>
<line x1="1228.80" y1="166.9" x2="1228.80" y2="196.9" stroke="#222222" stroke-width="1"/>
<rect x="1226.30" y="181.0" width="5" height="5.5" fill="#000000"/>
<line x1="1235.70" y1="167.5" x2="1235.70" y2="193.5" stroke="#e07a3e" stroke-width="1"/>
<rect x="1233.20" y="178.1" width="5" height="9.4" fill="#e8580a"/>
<line x1="1242.60" y1="166.9" x2="1242.60" y2="188.5" stroke="#e07a3e" stroke-width="1"/>
<rect x="1240.10" y="174.4" width="5" height="3.7" fill="#e8580a"/>
<line x1="1249.50" y1="168.1" x2="1249.50" y2="185.6" stroke="#222222" stroke-width="1"/>
<rect x="1247.00" y="170.2" width="5" height="5.8" fill="#000000"/>
<line x1="1256.40" y1="156.5" x2="1256.40" y2="183.8" stroke="#e07a3e" stroke-width="1"/>
<rect x="1253.90" y="166.9" width="5" height="9.3" fill="#e8580a"/>
<line x1="1263.30" y1="159.8" x2="1263.30" y2="195.6" stroke="#222222" stroke-width="1"/>
<rect x="1260.80" y="166.9" width="5" height="28.7" fill="#000000"/>
<line x1="1270.20" y1="180.6" x2="1270.20" y2="225.6" stroke="#e07a3e" stroke-width="1"/>
<rect x="1267.70" y="182.2" width="5" height="13.3" fill="#e8580a"/>
<line x1="1277.10" y1="156.5" x2="1277.10" y2="229.4" stroke="#e07a3e" stroke-width="1"/>
<rect x="1274.60" y="156.9" width="5" height="26.2" fill="#e8580a"/>
<line x1="1284.00" y1="148.1" x2="1284.00" y2="169.4" stroke="#e07a3e" stroke-width="1"/>
<rect x="1281.50" y="151.0" width="5" height="6.2" fill="#e8580a"/>
<line x1="1290.90" y1="149.0" x2="1290.90" y2="161.5" stroke="#222222" stroke-width="1"/>
<rect x="1288.40" y="151.0" width="5" height="3.4" fill="#000000"/>
<line x1="1297.80" y1="144.0" x2="1297.80" y2="177.2" stroke="#222222" stroke-width="1"/>
<rect x="1295.30" y="154.4" width="5" height="19.3" fill="#000000"/>
<line x1="1304.70" y1="154.4" x2="1304.70" y2="178.1" stroke="#e07a3e" stroke-width="1"/>
<rect x="1302.20" y="165.0" width="5" height="8.8" fill="#e8580a"/>
<line x1="1311.60" y1="146.9" x2="1311.60" y2="165.0" stroke="#e07a3e" stroke-width="1"/>
<rect x="1309.10" y="153.1" width="5" height="11.7" fill="#e8580a"/>
<line x1="1318.50" y1="94.5" x2="1318.50" y2="156.2" stroke="#e07a3e" stroke-width="1"/>
<rect x="1316.00" y="114.0" width="5" height="38.8" fill="#e8580a"/>
<line x1="1325.40" y1="101.2" x2="1325.40" y2="133.8" stroke="#222222" stroke-width="1"/>
<rect x="1322.90" y="114.8" width="5" height="14.0" fill="#000000"/>
<line x1="1332.30" y1="116.0" x2="1332.30" y2="145.2" stroke="#222222" stroke-width="1"/>
<rect x="1329.80" y="128.8" width="5" height="5.0" fill="#000000"/>
<line x1="1339.20" y1="118.1" x2="1339.20" y2="190.6" stroke="#222222" stroke-width="1"/>
<rect x="1336.70" y="132.8" width="5" height="37.5" fill="#000000"/>
<line x1="1346.10" y1="147.5" x2="1346.10" y2="171.2" stroke="#e07a3e" stroke-width="1"/>
<rect x="1343.60" y="160.6" width="5" height="9.7" fill="#e8580a"/>
<polyline points="1296.25,116.25 1324.25,60.5 1366.25,157.2" fill="none" stroke="#e4742f" stroke-width="1.9" stroke-linejoin="miter"/>
<polyline points="1352.5,152.75 1366.25,157.2 1371.9,146.25" fill="none" stroke="#e4742f" stroke-width="1.9" stroke-linejoin="miter"/>
</g>
<line x1="2.5" y1="657.5" x2="1541.7" y2="657.5" stroke="#85878f" stroke-width="1" stroke-dasharray="5.3,5.7"/>
<line x1="2.5" y1="694.3" x2="1541.7" y2="694.3" stroke="#85878f" stroke-width="1" stroke-dasharray="5.3,5.7"/>
<line x1="2.5" y1="730.6" x2="1541.7" y2="730.6" stroke="#85878f" stroke-width="1" stroke-dasharray="5.3,5.7"/>
<polyline points="3.5,653.8 7.5,656.0 14.4,657.2 21.3,659.0 28.2,653.4 35.1,661.7 42.0,660.4 48.9,663.2 55.8,681.0 62.7,680.0 69.6,679.1 76.5,683.3 83.4,679.7 90.3,678.8 97.2,685.3 104.1,684.2 111.0,704.5 117.9,732.6 124.8,725.7 131.7,726.0 138.6,723.6 145.5,719.5 152.4,719.1 159.3,724.2 166.2,722.9 173.1,723.2 180.0,719.1 186.9,722.3 193.8,724.6 200.7,726.2 207.6,717.2 214.5,714.8 221.4,710.5 228.3,709.5 235.2,718.6 242.1,726.1 249.0,742.0 255.9,756.7 262.8,738.8 269.7,737.3 276.6,743.0 283.5,749.5 290.4,746.7 297.3,742.4 304.2,742.4 311.1,744.8 318.0,747.3 324.9,747.7 331.8,713.5 338.7,711.0 345.6,708.6 352.5,707.9 359.4,704.5 366.3,694.2 373.2,690.4 380.1,687.6 387.0,686.3 393.9,684.8 400.8,686.1 407.7,685.7 414.6,690.0 421.5,665.0 428.4,666.4 435.3,666.0 442.2,665.4 449.1,663.2 456.0,669.4 462.9,666.0 469.8,670.7 476.7,667.3 483.6,658.5 490.5,649.1 497.4,647.6 504.3,657.0 511.2,654.7 518.1,653.2 525.0,667.3 531.9,655.3 538.8,668.2 545.7,666.9 552.6,663.7 559.5,669.7 566.4,682.0 573.3,690.2 580.2,711.4 587.1,709.2 594.0,707.3 600.9,712.5 607.8,710.1 614.7,696.0 621.6,700.3 628.5,702.6 635.4,689.8 642.3,694.2 649.2,692.3 656.1,678.2 663.0,666.6 669.9,660.4 676.8,667.9 683.7,665.4 690.6,665.6 697.5,664.5 704.4,684.2 711.3,683.4 718.2,697.9 725.1,702.0 732.0,702.0 738.9,700.3 745.8,699.8 752.7,712.4 759.6,701.1 766.5,700.2 773.4,700.2 780.3,707.3 787.2,690.0 794.1,690.8 801.0,694.2 807.9,694.7 814.8,695.1 821.7,693.6 828.6,704.9 835.5,696.0 842.4,693.2 849.3,726.6 856.2,731.7 863.1,727.0 870.0,732.1 876.9,734.0 883.8,733.2 890.7,694.2 897.6,686.6 904.5,687.2 911.4,690.0 918.3,691.0 925.2,697.3 932.1,676.3 939.0,678.2 945.9,679.5 952.8,681.0 959.7,685.1 966.6,687.6 973.5,652.9 980.4,653.2 987.3,655.7 994.2,654.7 1001.1,659.8 1008.0,659.0 1014.9,662.2 1021.8,663.6 1028.7,679.1 1035.6,689.8 1042.5,675.4 1049.4,678.6 1056.3,688.0 1063.2,682.3 1070.1,686.1 1077.0,682.3 1083.9,689.1 1090.8,695.5 1097.7,702.6 1104.6,690.4 1111.5,689.5 1118.4,684.8 1125.3,680.2 1132.2,670.7 1139.1,666.9 1146.0,670.7 1152.9,665.0 1159.8,674.4 1166.7,683.3 1173.6,680.0 1180.5,683.4 1187.4,657.5 1194.3,651.3 1201.2,659.4 1208.1,657.2 1215.0,643.5 1221.9,641.0 1228.8,644.0 1235.7,642.5 1242.6,642.1 1249.5,643.1 1256.4,641.6 1263.3,659.0 1270.2,657.0 1277.1,650.6 1284.0,648.7 1290.9,651.5 1297.8,662.8 1304.7,660.0 1311.6,657.2 1318.5,648.2 1325.4,655.7 1332.3,659.4 1339.2,678.6 1346.1,675.8" fill="none" stroke="#8a74c4" stroke-width="1.1" stroke-linejoin="round"/>
<line x1="1214.4" y1="626.9" x2="1338.3" y2="638.4" stroke="#9b86cf" stroke-width="1"/>
<text x="1548.4" y="93.3" font-family="Liberation Sans, sans-serif" font-size="10.6" fill="#222327" textLength="32.3" lengthAdjust="spacingAndGlyphs">41.500</text>
<text x="1548.4" y="144.4" font-family="Liberation Sans, sans-serif" font-size="10.6" fill="#222327" textLength="32.3" lengthAdjust="spacingAndGlyphs">41.000</text>
<text x="1548.4" y="195.6" font-family="Liberation Sans, sans-serif" font-size="10.6" fill="#222327" textLength="32.3" lengthAdjust="spacingAndGlyphs">40.500</text>
<text x="1548.4" y="297.9" font-family="Liberation Sans, sans-serif" font-size="10.6" fill="#222327" textLength="32.3" lengthAdjust="spacingAndGlyphs">39.500</text>
<text x="1548.4" y="349.0" font-family="Liberation Sans, sans-serif" font-size="10.6" fill="#222327" textLength="32.3" lengthAdjust="spacingAndGlyphs">39.000</text>
<text x="1548.4" y="400.1" font-family="Liberation Sans, sans-serif" font-size="10.6" fill="#222327" textLength="32.3" lengthAdjust="spacingAndGlyphs">38.500</text>
<text x="1548.4" y="451.3" font-family="Liberation Sans, sans-serif" font-size="10.6" fill="#222327" textLength="32.3" lengthAdjust="spacingAndGlyphs">38.000</text>
<text x="1548.4" y="502.4" font-family="Liberation Sans, sans-serif" font-size="10.6" fill="#222327" textLength="32.3" lengthAdjust="spacingAndGlyphs">37.500</text>
<text x="1548.4" y="553.6" font-family="Liberation Sans, sans-serif" font-size="10.6" fill="#222327" textLength="32.3" lengthAdjust="spacingAndGlyphs">37.000</text>
<text x="1548.4" y="604.7" font-family="Liberation Sans, sans-serif" font-size="10.6" fill="#222327" textLength="32.3" lengthAdjust="spacingAndGlyphs">36.500</text>
<text x="1548.4" y="642.2" font-family="Liberation Sans, sans-serif" font-size="10.6" fill="#222327" textLength="27" lengthAdjust="spacingAndGlyphs">80.00</text>
<text x="1548.4" y="716.3" font-family="Liberation Sans, sans-serif" font-size="10.6" fill="#222327" textLength="27" lengthAdjust="spacingAndGlyphs">40.00</text>
<text x="1548.4" y="752.8" font-family="Liberation Sans, sans-serif" font-size="10.6" fill="#222327" textLength="27" lengthAdjust="spacingAndGlyphs">20.00</text>
<rect x="1541.7" y="153.6" width="44" height="14" fill="#e65100"/>
<text x="1549.3" y="164.5" font-family="Liberation Sans, sans-serif" font-size="10.6" font-weight="bold" fill="#ffffff" textLength="32.3" lengthAdjust="spacingAndGlyphs">40.806</text>
<rect x="1541.7" y="236.6" width="44" height="14" fill="#2962ff"/>
<text x="1549.3" y="247.5" font-family="Liberation Sans, sans-serif" font-size="10.6" font-weight="bold" fill="#ffffff" textLength="32.3" lengthAdjust="spacingAndGlyphs">40.000</text>
<rect x="1541.7" y="669.6" width="39.5" height="13.6" fill="#7e57c2"/>
<text x="1549.3" y="680.3" font-family="Liberation Sans, sans-serif" font-size="10.6" font-weight="bold" fill="#ffffff" textLength="27" lengthAdjust="spacingAndGlyphs">59.76</text>
<text x="14.2" y="784.1" font-family="Liberation Sans, sans-serif" font-size="10.2" fill="#222327" text-anchor="middle">23</text>
<text x="97.0" y="784.1" font-family="Liberation Sans, sans-serif" font-size="10.2" fill="#222327" text-anchor="middle">25</text>
<text x="186.7" y="784.1" font-family="Liberation Sans, sans-serif" font-size="10.2" fill="#222327" text-anchor="middle">29</text>
<text x="310.9" y="784.1" font-family="Liberation Sans, sans-serif" font-size="10.2" font-weight="bold" fill="#222327" text-anchor="middle">Aug</text>
<text x="400.6" y="784.1" font-family="Liberation Sans, sans-serif" font-size="10.2" fill="#222327" text-anchor="middle">5</text>
<text x="483.4" y="784.1" font-family="Liberation Sans, sans-serif" font-size="10.2" fill="#222327" text-anchor="middle">7</text>
<text x="566.2" y="784.1" font-family="Liberation Sans, sans-serif" font-size="10.2" fill="#222327" text-anchor="middle">10</text>
<text x="655.9" y="784.1" font-family="Liberation Sans, sans-serif" font-size="10.2" fill="#222327" text-anchor="middle">13</text>
<text x="738.7" y="784.1" font-family="Liberation Sans, sans-serif" font-size="10.2" fill="#222327" text-anchor="middle">15</text>
<text x="828.4" y="784.1" font-family="Liberation Sans, sans-serif" font-size="10.2" fill="#222327" text-anchor="middle">19</text>
<text x="911.2" y="784.1" font-family="Liberation Sans, sans-serif" font-size="10.2" fill="#222327" text-anchor="middle">21</text>
<text x="994.0" y="784.1" font-family="Liberation Sans, sans-serif" font-size="10.2" fill="#222327" text-anchor="middle">24</text>
<text x="1083.7" y="784.1" font-family="Liberation Sans, sans-serif" font-size="10.2" fill="#222327" text-anchor="middle">27</text>
<text x="1214.8" y="784.1" font-family="Liberation Sans, sans-serif" font-size="10.2" font-weight="bold" fill="#222327" text-anchor="middle">Sep</text>
<text x="1297.6" y="784.1" font-family="Liberation Sans, sans-serif" font-size="10.2" fill="#222327" text-anchor="middle">3</text>
<text x="1380.4" y="784.1" font-family="Liberation Sans, sans-serif" font-size="10.2" fill="#222327" text-anchor="middle">5</text>
<text x="1463.2" y="784.1" font-family="Liberation Sans, sans-serif" font-size="10.2" fill="#222327" text-anchor="middle">7</text>
<text x="10.8" y="66.3" font-family="Liberation Sans, sans-serif" font-size="10.6" fill="#26272c" textLength="48.5" lengthAdjust="spacingAndGlyphs">Silver, 4h</text>
<text x="67" y="66.3" font-family="Liberation Sans, sans-serif" font-size="10.6" fill="#26272c" textLength="8" lengthAdjust="spacingAndGlyphs">O</text>
<text x="75" y="66.3" font-family="Liberation Sans, sans-serif" font-size="10.6" fill="#e8641c" textLength="35" lengthAdjust="spacingAndGlyphs">40.717</text>
<text x="118" y="66.3" font-family="Liberation Sans, sans-serif" font-size="10.6" fill="#26272c" textLength="7.5" lengthAdjust="spacingAndGlyphs">H</text>
<text x="125.5" y="66.3" font-family="Liberation Sans, sans-serif" font-size="10.6" fill="#e8641c" textLength="35" lengthAdjust="spacingAndGlyphs">40.932</text>
<text x="168.7" y="66.3" font-family="Liberation Sans, sans-serif" font-size="10.6" fill="#26272c" textLength="6" lengthAdjust="spacingAndGlyphs">L</text>
<text x="174.7" y="66.3" font-family="Liberation Sans, sans-serif" font-size="10.6" fill="#e8641c" textLength="35" lengthAdjust="spacingAndGlyphs">40.698</text>
<text x="217.5" y="66.3" font-family="Liberation Sans, sans-serif" font-size="10.6" fill="#26272c" textLength="7.5" lengthAdjust="spacingAndGlyphs">C</text>
<text x="225" y="66.3" font-family="Liberation Sans, sans-serif" font-size="10.6" fill="#e8641c" textLength="35" lengthAdjust="spacingAndGlyphs">40.806</text>
<text x="267.5" y="66.3" font-family="Liberation Sans, sans-serif" font-size="10.6" fill="#e8641c" textLength="35" lengthAdjust="spacingAndGlyphs">+0.087</text>
<text x="308" y="66.3" font-family="Liberation Sans, sans-serif" font-size="10.6" fill="#e8641c" textLength="44" lengthAdjust="spacingAndGlyphs">(+0.21%)</text>
<text x="11.3" y="643" font-family="Liberation Sans, sans-serif" font-size="10.6" fill="#26272c" textLength="39.7" lengthAdjust="spacingAndGlyphs">RSI (14)</text>
<text x="59.7" y="643" font-family="Liberation Sans, sans-serif" font-size="10.6" fill="#8a74c4" textLength="28.5" lengthAdjust="spacingAndGlyphs">59.76</text>
</g>
</svg>
<svg viewBox="0 0 879 879" width="70" height="70" style="position:absolute;left:706px;top:790px;overflow:visible">
<circle cx="438" cy="432" r="388" fill="#ffffff" stroke="#f8600f" stroke-width="12"/>
<path d="M140,395 A302,302 0 0 0 330,708" fill="none" stroke="#f8600f" stroke-width="17"/>
<path d="M470,130 A305,305 0 0 1 745,440" fill="none" stroke="#f8600f" stroke-width="15"/>
<path d="M240,375 C200,440 195,560 270,650 C330,720 450,745 560,740 C640,735 700,710 715,650 L722,600 L700,565 L762,520 L742,480 L702,468 L692,428 L652,400 C668,330 640,250 560,195 L520,178 L470,133 L450,200 L448,240 L385,340 L335,395 Z" fill="#f8600f"/>
<path d="M175,180 L235,135 L300,150 L360,165 L420,150 L445,185 L448,240 L418,300 L385,340 L335,372 L330,400 L240,385 L130,352 L110,322 L160,285 L150,240 Z" fill="#f8600f"/>
<path d="M218,74 C160,80 118,112 136,162" fill="none" stroke="#f8600f" stroke-width="24" stroke-linecap="round"/>
<path d="M290,62 C340,36 402,60 396,120 C392,150 350,160 318,148" fill="none" stroke="#f8600f" stroke-width="24" stroke-linecap="round"/>
<path d="M468,196 C460,290 395,352 338,430" fill="none" stroke="#fff" stroke-width="60" stroke-linecap="round"/>
<path d="M562,240 C584,398 400,432 335,548 C312,592 308,626 320,660" fill="none" stroke="#fff" stroke-width="46" stroke-linecap="round"/>
<path d="M542,412 C500,450 440,520 476,572 C512,602 548,540 542,412 Z" fill="#fff"/>
<path d="M577,432 C556,460 545,492 561,514 C577,492 582,460 577,432Z" fill="#fff"/>
<ellipse cx="315" cy="255" rx="48" ry="34" fill="#fff" transform="rotate(-30 315 255)"/>
<ellipse cx="182" cy="230" rx="14" ry="10" fill="#fff"/>
<ellipse cx="165" cy="305" rx="24" ry="10" fill="#fff" transform="rotate(-20 165 305)"/>
<ellipse cx="218" cy="328" rx="13" ry="8" fill="#fff"/>
<ellipse cx="255" cy="178" rx="22" ry="9" fill="#fff" transform="rotate(-25 255 178)"/>
<ellipse cx="395" cy="170" rx="18" ry="8" fill="#fff" transform="rotate(25 395 170)"/>
<circle cx="640" cy="432" r="15" fill="#fff"/>
<ellipse cx="705" cy="500" rx="18" ry="9" fill="#fff" transform="rotate(-30 705 500)"/>
<ellipse cx="612" cy="600" rx="20" ry="9" fill="#fff" transform="rotate(-20 612 600)"/>
<ellipse cx="646" cy="642" rx="22" ry="9" fill="#fff" transform="rotate(-32 646 642)"/>
<path d="M385,655 C395,695 430,715 462,712" fill="none" stroke="#fff" stroke-width="15" stroke-linecap="round"/>
<path d="M515,650 C498,700 530,732 562,728 C562,700 546,665 515,650Z" fill="#fff"/>
</svg>
<svg viewBox="0 0 1600 650" width="160" height="65" style="position:absolute;left:775px;top:795px;overflow:visible">
<polygon points="85,148 285,148 285,208 160,208 160,262 268,262 268,320 160,320 160,445 85,445" fill="#1a1a1a"/>
<polygon points="272,148 368,148 572,445 476,445" fill="#1a1a1a"/>
<polygon points="470,148 566,148 366,445 270,445" fill="#1a1a1a"/>
<ellipse cx="672" cy="305" rx="84" ry="111" fill="none" stroke="#f8600f" stroke-width="68"/>
<line x1="816" y1="168" x2="816" y2="515" stroke="#f8600f" stroke-width="68"/>
<ellipse cx="895" cy="305" rx="81" ry="111" fill="none" stroke="#f8600f" stroke-width="68"/>
<path d="M1200,312 L1036,312 M1202,318 A84,111 0 1 0 1180,385" fill="none" stroke="#f8600f" stroke-width="62"/>
<path d="M1279,168 L1279,445 M1279,300 C1279,160 1446,150 1446,290 L1446,445" fill="none" stroke="#f8600f" stroke-width="68"/>
</svg>
</body></html>
